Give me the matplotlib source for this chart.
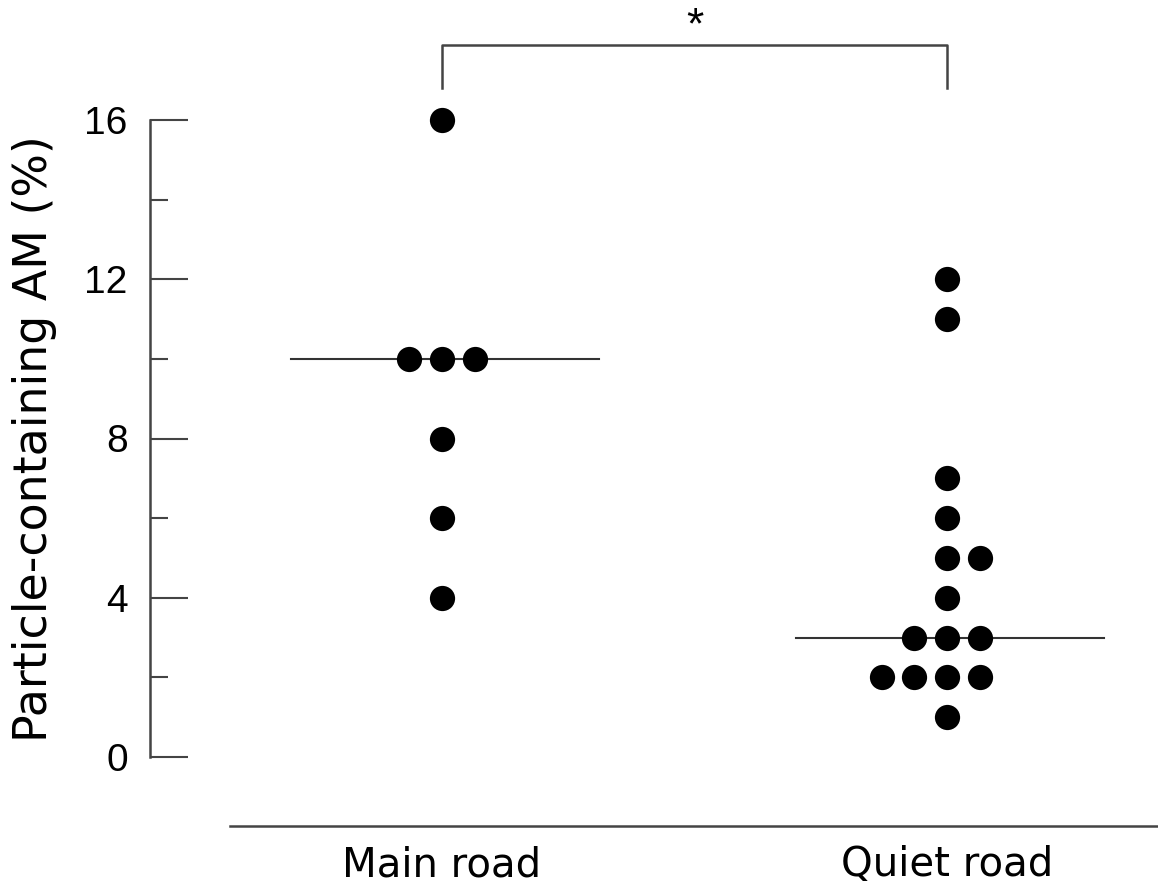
import matplotlib.pyplot as plt
from matplotlib.lines import Line2D

plt.rcParams['font.family'] = ['Liberation Sans', 'DejaVu Sans']

groups = ["Main road", "Quiet road"]
main_vals = [16, 10, 10, 10, 8, 6, 4]
main_cols = [0, -1, 0, 1, 0, 0, 0]
quiet_vals = [12, 11, 7, 6, 5, 5, 4, 3, 3, 3, 2, 2, 2, 2, 1]
quiet_cols = [0, 0, 0, 0, 0, 1, 0, -1, 0, 1, -2, -1, 0, 1, 0]
medians = [10, 3]

fig = plt.figure(figsize=(11.58, 8.91), dpi=100)
ax = fig.add_axes([150 / 1158, (891 - 757) / 891, 1008 / 1158, 637 / 891])

step = 0.0644
for gx, vals, cols in [(1, main_vals, main_cols), (2, quiet_vals, quiet_cols)]:
    xs = [gx + c * step for c in cols]
    ax.scatter(xs, vals, s=330, color="black", zorder=3, clip_on=False, linewidths=0)

for gx, m in zip([1, 2], medians):
    ax.plot([gx - 0.30, gx + 0.31], [m, m], color="#333333", lw=1.5, zorder=2)

ax.set_xlim(1 - 292 / 505, 2 + 211 / 505)
ax.set_ylim(0, 16)

for s in ["top", "right", "bottom"]:
    ax.spines[s].set_visible(False)
ax.spines["left"].set_linewidth(1.8)
ax.spines["left"].set_color("#444444")

ax.set_yticks([0, 4, 8, 12, 16])
ax.set_yticks([2, 6, 10, 14], minor=True)
ax.tick_params(axis="y", which="major", direction="in", length=27, width=1.5,
               color="#444444", labelsize=28, pad=16)
ax.tick_params(axis="y", which="minor", direction="in", length=13, width=1.5,
               color="#444444")
ax.set_xticks([])
ax.set_ylabel("Particle-containing AM (%)", fontsize=33, family="DejaVu Sans",
              labelpad=20)

# bottom baseline and group labels
fig.add_artist(Line2D([230 / 1158, 1.0], [1 - 826 / 891] * 2, color="#444444", lw=1.8))
for gx, name in zip([1, 2], groups):
    ax.text(gx, -3.0, name, ha="center", va="baseline", fontsize=29,
            family="DejaVu Sans", clip_on=False)

# significance bracket
yb = 16 + (120 - 45) / 39.8
yl = 16 + (120 - 88) / 39.8
ax.plot([1, 1, 2, 2], [yl, yb, yb, yl], color="#444444", lw=1.8, clip_on=False)
ax.text(1.5, yb + 0.45, "*", ha="center", va="center", fontsize=32, clip_on=False)

fig.savefig("out.png", dpi=100)
